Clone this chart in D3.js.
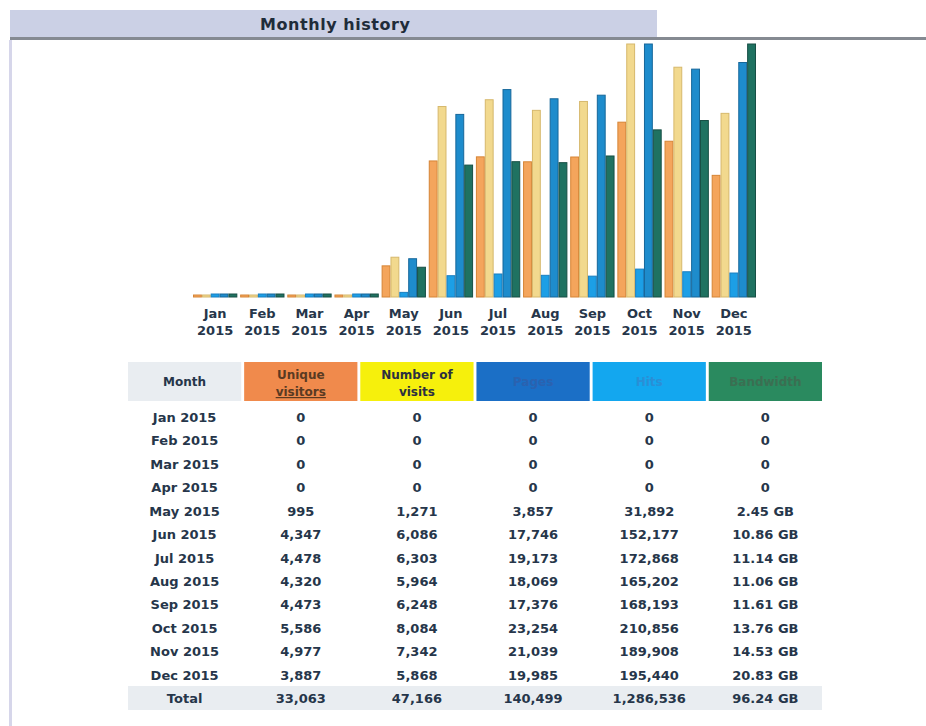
<!DOCTYPE html>
<html>
<head>
<meta charset="utf-8">
<script src="https://cdn.jsdelivr.net/npm/d3@7"></script>
<style>
  body { margin: 0; background: #fff; }
  svg text { font-family: "DejaVu Sans", Verdana, sans-serif; font-weight: bold; fill: #26364a; }
</style>
</head>
<body>
<script>
var width  = 926;
var height = 726;

// data
var months        = ['Jan', 'Feb', 'Mar', 'Apr', 'May', 'Jun', 'Jul', 'Aug', 'Sep', 'Oct', 'Nov', 'Dec'];
var year          = '2015';
var uniqueVisitors = [0, 0, 0, 0, 995, 4347, 4478, 4320, 4473, 5586, 4977, 3887];
var visits         = [0, 0, 0, 0, 1271, 6086, 6303, 5964, 6248, 8084, 7342, 5868];
var pages          = [0, 0, 0, 0, 3857, 17746, 19173, 18069, 17376, 23254, 21039, 19985];
var hits           = [0, 0, 0, 0, 31892, 152177, 172868, 165202, 168193, 210856, 189908, 195440];
var bandwidthGB    = [0, 0, 0, 0, 2.45, 10.86, 11.14, 11.06, 11.61, 13.76, 14.53, 20.83];
var columns        = ['Month', 'Unique visitors', 'Number of visits', 'Pages', 'Hits', 'Bandwidth'];

var svg = d3.select('body')
            .append('svg')
            .attr('width', width)
            .attr('height', height);

// title bar
svg.append('rect').attr('x', 10).attr('y', 10).attr('width', 647).attr('height', 27).attr('fill', '#cbd0e5');
svg.append('rect').attr('x', 10).attr('y', 37).attr('width', 916).attr('height', 3).attr('fill', '#858a92');
svg.append('rect').attr('x', 9).attr('y', 40).attr('width', 3).attr('height', 686).attr('fill', '#d6d6ea');
svg.append('text')
   .attr('x', 335).attr('y', 30)
   .attr('text-anchor', 'middle')
   .attr('font-size', '16px')
   .attr('textLength', 150)
   .style('fill', '#1f2c3a')
   .text('Monthly history');

// ---- bar chart ----
var baseline = 297;
var top_     = 44;

var x = d3.scaleBand()
          .domain(months)
          .range([193, 756])
          .paddingInner(0.06);

var series = ['u', 'v', 'p', 'h', 'k'];
var sub = d3.scaleBand().domain(series).range([0, x.bandwidth()]);

var yUV = d3.scaleLinear().domain([0, d3.max(visits)]).range([baseline, top_]);
var yPH = d3.scaleLinear().domain([0, d3.max(hits)]).range([baseline, top_]);
var yBW = d3.scaleLinear().domain([0, d3.max(bandwidthGB)]).range([baseline, top_]);

var spec = {
  u: { values: uniqueVisitors, y: yUV, fill: '#f4a55c', stroke: '#d68536', min: 2 },
  v: { values: visits,         y: yUV, fill: '#f2d98e', stroke: '#d6b86c', min: 2 },
  p: { values: pages,          y: yPH, fill: '#1c9fe6', stroke: '#1a7fc0', min: 3 },
  h: { values: hits,           y: yPH, fill: '#1e8ccc', stroke: '#16679a', min: 3 },
  k: { values: bandwidthGB,    y: yBW, fill: '#1f7261', stroke: '#174f45', min: 3 }
};

var bars = [];
months.forEach(function(m, i) {
  series.forEach(function(s) {
    bars.push({ month: m, key: s, value: spec[s].values[i] });
  });
});

svg.selectAll('rect.bar')
   .data(bars)
   .enter()
   .append('rect')
   .attr('class', 'bar')
   .attr('x', function(d) { return x(d.month) + sub(d.key) + 0.5; })
   .attr('width', function(d) { return sub.bandwidth() - 1; })
   .attr('y', function(d) {
     var h = Math.max(baseline - spec[d.key].y(d.value), spec[d.key].min);
     return baseline - h;
   })
   .attr('height', function(d) { return Math.max(baseline - spec[d.key].y(d.value), spec[d.key].min); })
   .attr('fill', function(d) { return spec[d.key].fill; })
   .attr('stroke', function(d) { return spec[d.key].stroke; })
   .attr('stroke-width', 1);

var labels = svg.selectAll('text.month')
   .data(months)
   .enter()
   .append('text')
   .attr('class', 'month')
   .attr('text-anchor', 'middle')
   .attr('font-size', '13px')
   .attr('x', function(d) { return x(d) + x.bandwidth() / 2; });
labels.append('tspan').attr('y', 318).text(function(d) { return d; });
labels.append('tspan')
      .attr('x', function(d) { return x(d) + x.bandwidth() / 2; })
      .attr('y', 335).text(year);

// ---- table ----
var col = d3.scaleBand()
            .domain(columns)
            .range([128, 822])
            .paddingInner(0.025);

var headFill = {
  'Month': '#e9edf1', 'Unique visitors': '#f08a4c', 'Number of visits': '#f6f00c',
  'Pages': '#1b6fc6', 'Hits': '#13a7ef', 'Bandwidth': '#2a8a5f'
};
var headText = {
  'Month': '#26364a', 'Unique visitors': '#5a3a22', 'Number of visits': '#2c3040',
  'Pages': '#2a62b0', 'Hits': '#2a8fd6', 'Bandwidth': '#3b6f52'
};
var headLines = {
  'Month': ['Month'], 'Unique visitors': ['Unique', 'visitors'], 'Number of visits': ['Number of', 'visits'],
  'Pages': ['Pages'], 'Hits': ['Hits'], 'Bandwidth': ['Bandwidth']
};

svg.selectAll('rect.head')
   .data(columns)
   .enter()
   .append('rect')
   .attr('class', 'head')
   .attr('x', function(d) { return col(d); })
   .attr('y', 362)
   .attr('width', col.bandwidth())
   .attr('height', 39)
   .attr('fill', function(d) { return headFill[d]; });

var head = svg.selectAll('text.head')
   .data(columns)
   .enter()
   .append('text')
   .attr('class', 'head')
   .attr('text-anchor', 'middle')
   .attr('font-size', '12px')
   .style('fill', function(d) { return headText[d]; });
head.selectAll('tspan')
    .data(function(d) { return headLines[d].map(function(t, i, a) { return { col: d, t: t, i: i, n: a.length }; }); })
    .enter()
    .append('tspan')
    .attr('x', function(d) { return col(d.col) + col.bandwidth() / 2; })
    .attr('y', function(d) { return d.n === 1 ? 386 : 379 + d.i * 17; })
    .attr('text-decoration', function(d) { return d.col === 'Unique visitors' && d.i === 1 ? 'underline' : null; })
    .text(function(d) { return d.t; });

var fmt = d3.format(',');
var rows = months.map(function(m, i) {
  return [m + ' ' + year, fmt(uniqueVisitors[i]), fmt(visits[i]), fmt(pages[i]), fmt(hits[i]),
          bandwidthGB[i] ? bandwidthGB[i].toFixed(2) + ' GB' : '0'];
});
rows.push(['Total', fmt(d3.sum(uniqueVisitors)), fmt(d3.sum(visits)), fmt(d3.sum(pages)),
           fmt(d3.sum(hits)), d3.sum(bandwidthGB).toFixed(2) + ' GB']);

var rowY = d3.scalePoint()
             .domain(d3.range(rows.length))
             .range([417, 698]);

svg.append('rect')
   .attr('x', 128).attr('y', rowY(rows.length - 1) - 12)
   .attr('width', 694).attr('height', 24)
   .attr('fill', '#e9edf1');

svg.selectAll('g.row')
   .data(rows)
   .enter()
   .append('g')
   .attr('class', 'row')
   .selectAll('text')
   .data(function(r, i) { return r.map(function(v, j) { return { v: v, j: j, i: i }; }); })
   .enter()
   .append('text')
   .attr('text-anchor', 'middle')
   .attr('font-size', '13px')
   .attr('x', function(d) { return col(columns[d.j]) + col.bandwidth() / 2; })
   .attr('y', function(d) { return rowY(d.i) + 5; })
   .text(function(d) { return d.v; });
</script>
</body>
</html>
